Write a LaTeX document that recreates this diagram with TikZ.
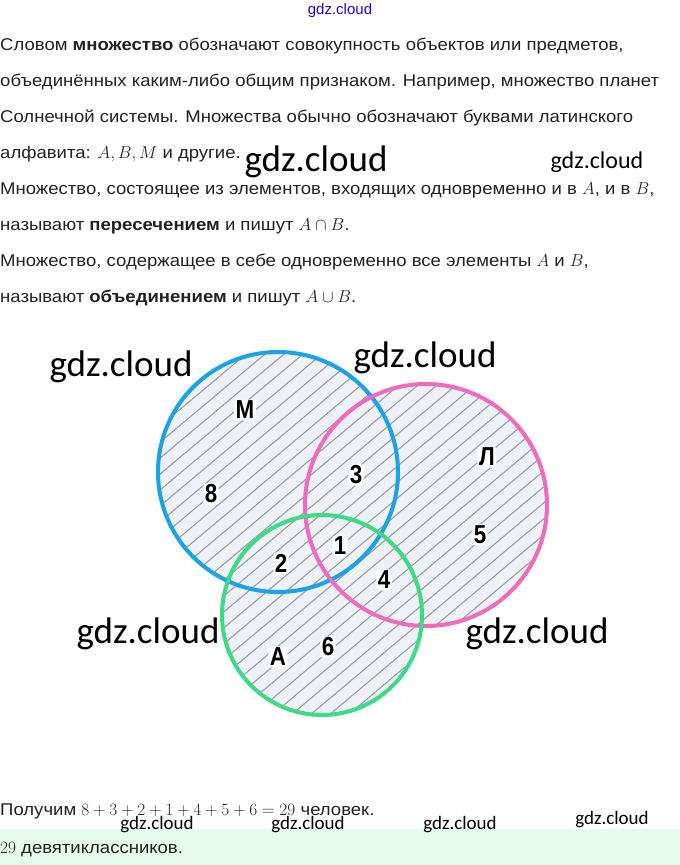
\documentclass[tikz,border=0pt]{standalone}
\usepackage{fontspec}
\setmainfont{Liberation Sans}[FakeStretch=1.09]
\newfontfamily\wm{Carlito}
\newfontfamily\lab{Liberation Sans}
\newfontfamily\labn{Liberation Sans Bold}[FakeStretch=0.86]
\usetikzlibrary{calc}
\newcommand{\mth}[1]{{\fontsize{18.5}{20}\selectfont$#1$}}
\definecolor{cblue}{HTML}{1AA3E8}
\definecolor{cpink}{HTML}{EE6BC0}
\definecolor{cgreen}{HTML}{3DDC84}
\definecolor{cfill}{HTML}{EEF1F6}
\definecolor{chatch}{HTML}{9A9EA4}
\definecolor{cband}{HTML}{E6FAEE}
\definecolor{ctext}{HTML}{222222}
\tikzset{
  txt/.style={anchor=base west,inner sep=0pt,font=\fontsize{17}{19}\selectfont,text=ctext},
  wmark/.style={inner sep=0pt,font=\wm\fontsize{37}{39}\selectfont,text=black},
  wmmid/.style={inner sep=0pt,font=\wm\fontsize{24}{26}\selectfont,text=black},
  wmsmall/.style={inner sep=0pt,font=\wm\fontsize{19}{20}\selectfont,text=black},
  num/.style={inner sep=1.5pt,fill=white,rounded corners=3pt,font=\labn\fontsize{26}{26}\selectfont,text=black},
  ring/.style={line width=4pt}
}
\begin{document}
\begin{tikzpicture}[x=1pt,y=-1pt]
\useasboundingbox (0,0) rectangle (680,865);
\fill[white] (0,0) rectangle (680,865);
% watermark top
\node[inner sep=0pt,font=\lab\fontsize{15}{16}\selectfont,text=blue!70!violet] (wtop) at (340,11) {gdz.cloud};
% paragraph text
\node[txt] (l1) at (0,50) {Словом \textbf{множество} обозначают совокупность объектов или предметов,};
\node[txt] (l2) at (0,86) {объединённых каким-либо общим признаком. Например, множество планет};
\node[txt] (l3) at (0,122) {Солнечной системы. Множества обычно обозначают буквами латинского};
\node[txt] (l4) at (0,158) {алфавита: \mth{A, B, M} и другие.};
\node[txt] (l5) at (0,194) {Множество, состоящее из элементов, входящих одновременно и в \mth{A}, и в \mth{B},};
\node[txt] (l6) at (0,230) {называют \textbf{пересечением} и пишут \mth{A\cap B}.};
\node[txt] (l7) at (0,266) {Множество, содержащее в себе одновременно все элементы \mth{A} и \mth{B},};
\node[txt] (l8) at (0,302) {называют \textbf{объединением} и пишут \mth{A\cup B}.};
% Venn diagram
\coordinate (cm) at (278,472);
\coordinate (cl) at (426,505);
\coordinate (ca) at (322,615);
\fill[cfill] (cm) circle (120) (cl) circle (121) (ca) circle (100);
\begin{scope}
\clip (cm) circle (120) (cl) circle (121) (ca) circle (100);
\foreach \k in {-40,...,40} {
  \draw[chatch,line width=1.1pt] ($(0,720)+(\k*19,0)$) -- ++(560,-470);
}
\end{scope}
\draw[ring,cblue] (cm) circle (120);
\draw[ring,cpink] (cl) circle (121);
\draw[ring,cgreen] (ca) circle (100);
\node[num] (nM) at (245,410) {М};
\node[num] (n8) at (211,494) {8};
\node[num] (n3) at (356,475) {3};
\node[num] (nL) at (487,457) {Л};
\node[num] (n5) at (480,535) {5};
\node[num] (n1) at (340,546) {1};
\node[num] (n2) at (281,563) {2};
\node[num] (n4) at (384,580) {4};
\node[num] (nA) at (278,657) {А};
\node[num] (n6) at (328,647) {6};
% big watermarks
\node[wmark] (w1) at (316,162) {gdz.cloud};
\node[wmmid] (w2) at (597,162) {gdz.cloud};
\node[wmark] (w3) at (121,367) {gdz.cloud};
\node[wmark] (w4) at (425,358) {gdz.cloud};
\node[wmark] (w5) at (148,634) {gdz.cloud};
\node[wmark] (w6) at (537,634) {gdz.cloud};
% bottom
\fill[cband] (0,829) rectangle (680,865);
\node[txt] (b1) at (0,815) {Получим \mth{8+3+2+1+4+5+6=29} человек.};
\node[txt] (b2) at (0,853) {\mth{29} девятиклассников.};
\node[wmsmall] (w7) at (157,825) {gdz.cloud};
\node[wmsmall] (w8) at (308,825) {gdz.cloud};
\node[wmsmall] (w9) at (460,825) {gdz.cloud};
\node[wmsmall] (w10) at (612,820) {gdz.cloud};
\end{tikzpicture}
\end{document}
